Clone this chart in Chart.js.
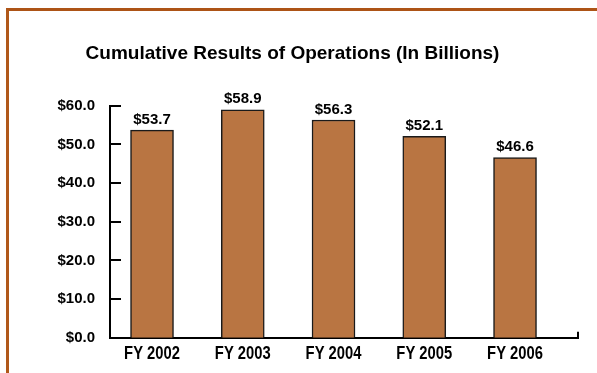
<!DOCTYPE html>
<html>
<head>
<meta charset="utf-8">
<script src="https://cdn.jsdelivr.net/npm/chart.js@4/dist/chart.umd.min.js"></script>
<style>
    html, body { margin: 0; padding: 0; background: #fff; }
    #wrap { position: relative; width: 597px; height: 373px; overflow: hidden; }
    #frame {
        position: absolute; left: 6px; top: 8px; width: 700px; height: 500px;
        border-top: 3px solid #ad5416; border-left: 3px solid #b0581a;
    }
    #resultsChart { position: absolute; left: 0; top: 0; }
</style>
</head>
<body>
<div id="wrap">
    <div id="frame"></div>
    <canvas id="resultsChart" width="597" height="373"></canvas>
</div>
<script>
// Cumulative results of operations, billions of dollars
const fiscalYears = ['FY 2002', 'FY 2003', 'FY 2004', 'FY 2005', 'FY 2006'];
const resultsBillions = [53.7, 58.9, 56.3, 52.1, 46.6];
const yTickValues = [0, 10, 20, 30, 40, 50, 60];

const BOLD = '"Liberation Sans", Arial, sans-serif';

const money = v => `$${Number(v).toFixed(1)}`;

// short inward ticks on the value axis, end tick on the category axis,
// condensed year labels and the value over each bar
const axisExtras = {
    id: 'axisExtras',
    afterDatasetsDraw(chart) {
        const { ctx, scales: { x, y } } = chart;
        ctx.save();
        ctx.strokeStyle = '#000';
        ctx.lineWidth = 2;
        ctx.beginPath();
        yTickValues.forEach(v => {
            const py = Math.round(y.getPixelForValue(v));
            ctx.moveTo(x.left, py);
            ctx.lineTo(x.left + 11, py);
        });
        ctx.moveTo(x.right, y.bottom);
        ctx.lineTo(x.right, y.bottom - 6);
        ctx.stroke();

        ctx.fillStyle = '#000';
        ctx.font = `bold 15px ${BOLD}`;
        ctx.textAlign = 'center';
        ctx.textBaseline = 'alphabetic';
        chart.getDatasetMeta(0).data.forEach((bar, i) => {
            ctx.fillText(money(resultsBillions[i]), bar.x, bar.y - 6.5);
        });

        // year labels, squeezed horizontally
        ctx.font = `bold 18px ${BOLD}`;
        fiscalYears.forEach((label, i) => {
            const px = x.getPixelForValue(i);
            ctx.save();
            ctx.translate(px, y.bottom + 21);
            ctx.scale(0.82, 1);
            ctx.fillText(label, 0, 0);
            ctx.restore();
        });
        ctx.restore();
    }
};

const ctx = document.getElementById('resultsChart').getContext('2d');
new Chart(ctx, {
    type: 'bar',
    data: {
        datasets: [{
            data: resultsBillions.map((v, i) => ({ x: i, y: v })),
            backgroundColor: '#b97542',
            borderColor: '#1a1a1a',
            borderWidth: 1.5,
            borderSkipped: 'bottom',
            barThickness: 43
        }]
    },
    options: {
        responsive: false,
        animation: false,
        devicePixelRatio: 1,
        layout: { padding: { left: 7, right: 19, top: 0, bottom: 0 } },
        plugins: {
            legend: { display: false },
            tooltip: { enabled: false },
            title: {
                display: true,
                text: 'Cumulative Results of Operations (In Billions)',
                color: '#000',
                font: { family: BOLD, size: 19, weight: 'bold', lineHeight: 1.2 },
                padding: { top: 42.6, bottom: 40.3 }
            }
        },
        scales: {
            x: {
                type: 'linear',
                offset: false,
                min: -0.463,
                max: 4.694,
                grid: { display: false, offset: false },
                border: { display: true, color: '#000', width: 2 },
                afterBuildTicks: scale => {
                    scale.ticks = fiscalYears.map((_, i) => ({ value: i }));
                },
                afterFit: scale => { scale.height = 35.3; },
                ticks: { display: false }
            },
            y: {
                min: 0,
                max: 60,
                grid: { display: false },
                border: { display: true, color: '#000', width: 2 },
                afterBuildTicks: scale => {
                    scale.ticks = yTickValues.map(v => ({ value: v }));
                },
                afterFit: scale => { scale.width = 103; },
                ticks: {
                    color: '#000',
                    padding: 7,
                    font: { family: BOLD, size: 15, weight: 'bold' },
                    callback: v => money(v)
                }
            }
        }
    },
    plugins: [axisExtras]
});
</script>
</body>
</html>
